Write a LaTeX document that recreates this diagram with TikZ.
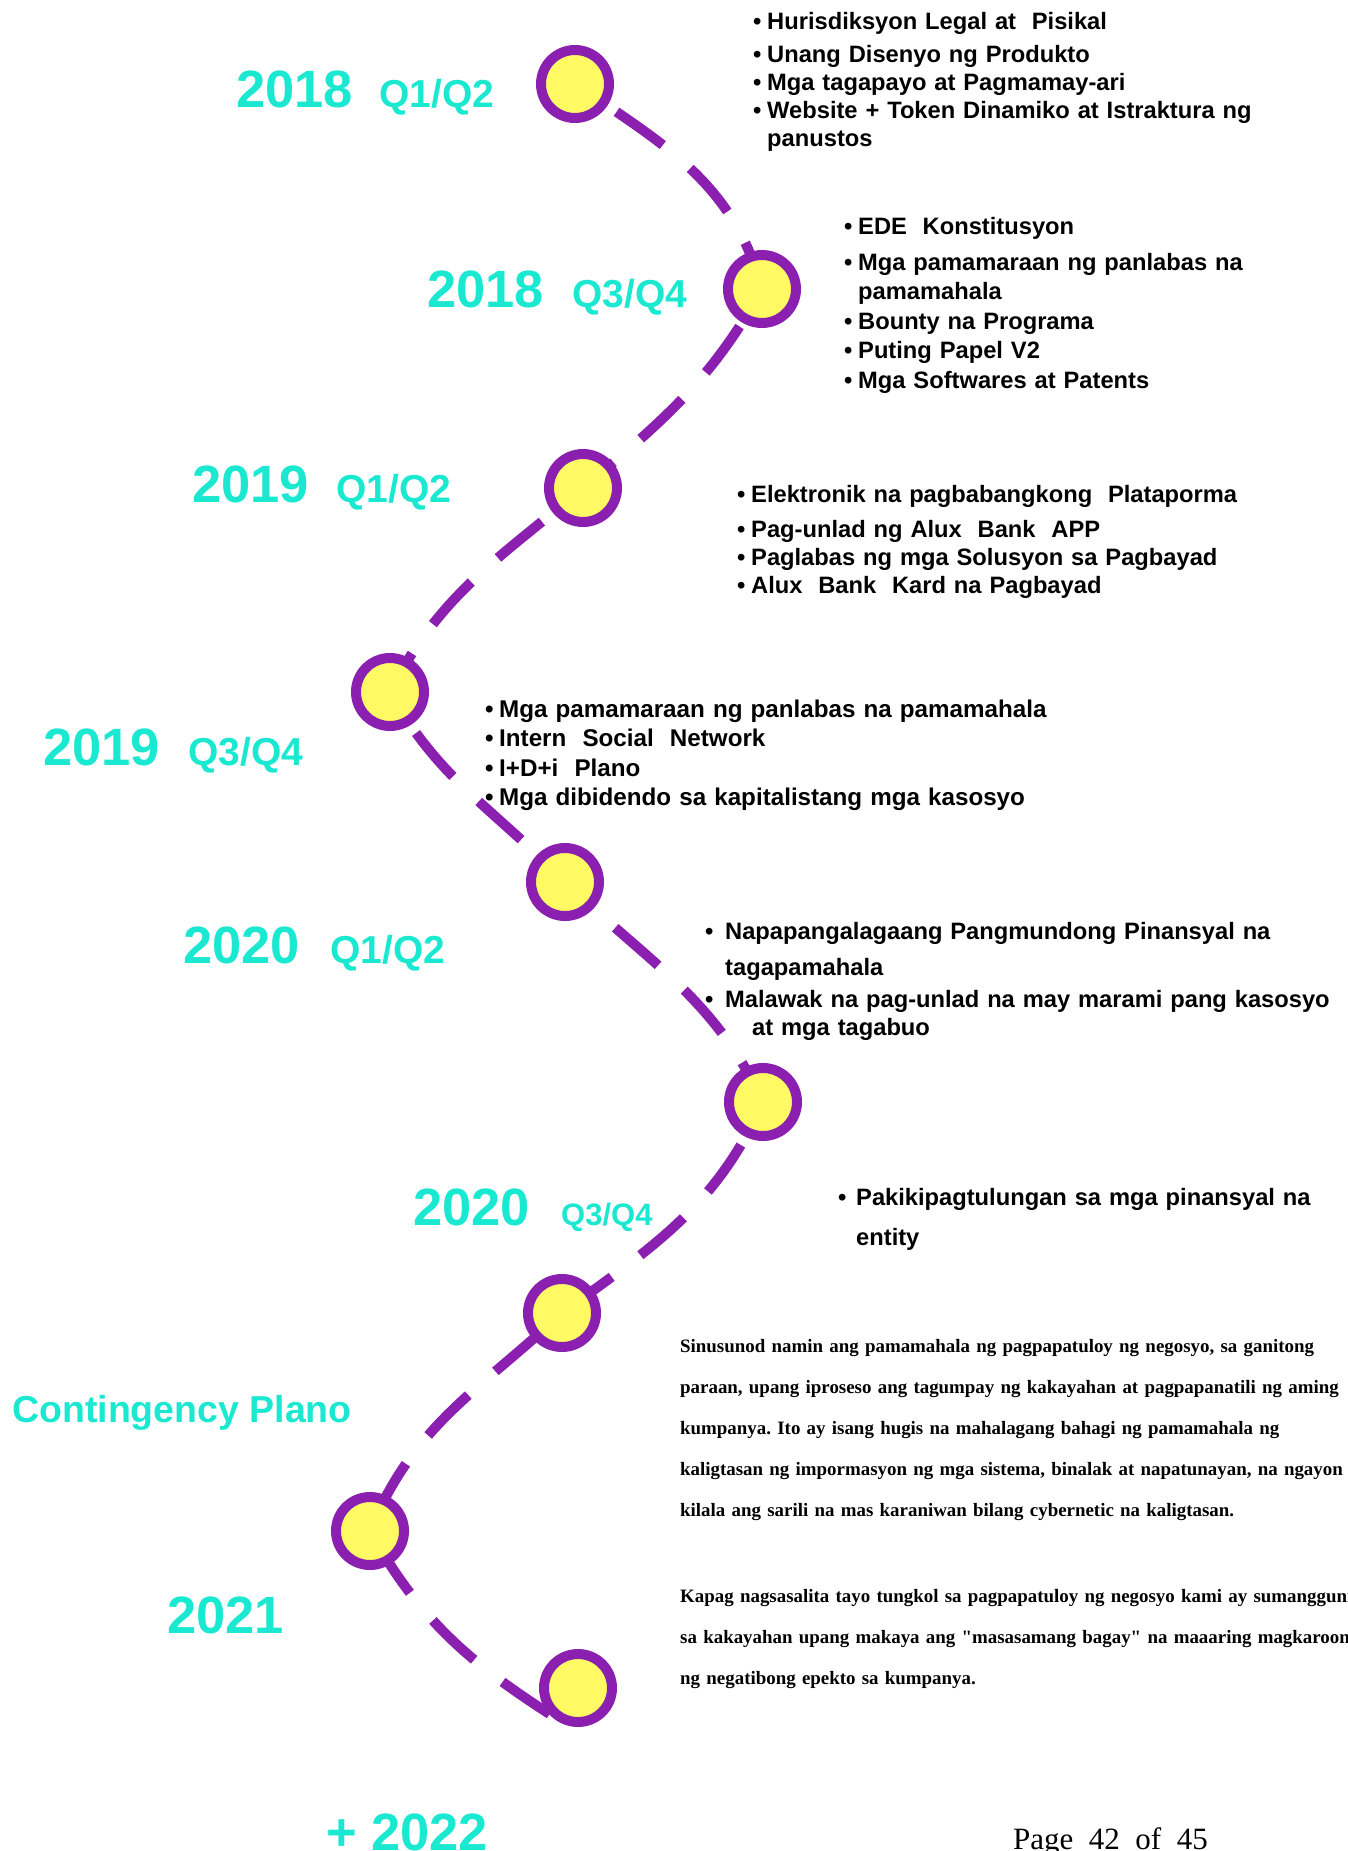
\documentclass[tikz,border=0pt]{standalone}
\usepackage{fontspec}
\setmainfont{Liberation Sans}
\newfontfamily\serif{Liberation Serif}
\usetikzlibrary{backgrounds}
\definecolor{tealc}{RGB}{26,232,208}
\definecolor{purp}{RGB}{139,32,176}
\definecolor{yel}{RGB}{255,250,100}
\def\BL{\makebox[14pt][l]{\textbullet}}
\def\IN{\hspace*{14pt}}
\frenchspacing

\begin{document}
\begin{tikzpicture}[x=1pt,y=1pt,
  stop/.style={circle,draw=purp,fill=yel,line width=10pt,minimum size=68pt,inner sep=0pt},
  year/.style={anchor=base west,inner sep=0pt,text=tealc,font=\fontsize{52.5}{52.5}\selectfont\bfseries},
  qtr/.style={anchor=base west,inner sep=0pt,text=tealc,font=\fontsize{39}{39}\selectfont\bfseries},
  items/.style={anchor=base west,inner sep=0pt,text width=640pt,align=left,font=\fontsize{23.7}{28}\selectfont\bfseries},
  para/.style={anchor=base west,inner sep=0pt,text width=720pt,align=left,font=\serif\fontsize{18.9}{41}\selectfont\bfseries},
  road/.style={purp,line width=10pt,dash pattern=on 57pt off 36pt,dash phase=43pt}]
\useasboundingbox (0,0) rectangle (1347,-1851);

% stops on the road
\node[stop] (c1) at (575,-84) {};
\node[stop] (c2) at (762,-289) {};
\node[stop] (c3) at (583,-488) {};
\node[stop] (c4) at (390,-692) {};
\node[stop] (c5) at (565,-882) {};
\node[stop] (c6) at (763,-1102) {};
\node[stop] (c7) at (562,-1313) {};
\node[stop] (c8) at (370,-1531) {};
\node[stop] (c9) at (578,-1688) {};
\coordinate (tail) at (578,-1732);

\begin{scope}[on background layer]
\draw[road] (c1.center) to[out=-34,in=105] (c2.center) to[out=-119,in=40] (c3.center)
  to[out=-140,in=63] (c4.center) to[out=-61,in=134] (c5.center) to[out=-44,in=115] (c6.center)
  to[out=-114,in=36] (c7.center) to[out=-137,in=68] (c8.center) to[out=-61,in=148] (tail);
\end{scope}

% years
\node[year] (y1) at (236,-108) {2018};  \node[qtr] (q1) at (379,-108) {Q1/Q2};
\node[year] (y2) at (427,-308) {2018};  \node[qtr] (q2) at (572,-308) {Q3/Q4};
\node[year] (y3) at (192,-502) {2019};  \node[qtr] (q3) at (336,-502) {Q1/Q2};
\node[year] (y4) at (43,-765) {2019};   \node[qtr] (q4) at (188,-765) {Q3/Q4};
\node[year] (y5) at (183,-963) {2020};  \node[qtr] (q5) at (330,-963) {Q1/Q2};
\node[year] (y6) at (413,-1225) {2020};
\node[qtr,font=\fontsize{31}{31}\selectfont\bfseries] (q6) at (561,-1225) {Q3/Q4};
\node[qtr,font=\fontsize{37.5}{37.5}\selectfont\bfseries] (cp) at (12,-1422) {Contingency Plano};
\node[year] (y7) at (167,-1633) {2021};
\node[year] (y8) at (326,-1850) {+ 2022};

% items
\node[items] (b1) at (753,-30) {\BL Hurisdiksyon Legal at\ \ Pisikal\\[5pt]
  \BL Unang Disenyo ng Produkto\\ \BL Mga tagapayo at Pagmamay-ari\\
  \BL Website + Token Dinamiko at Istraktura ng\\ \IN panustos};
\node[items,font=\fontsize{23.7}{29.5}\selectfont\bfseries] (b2) at (844,-235) {\BL EDE\ \ Konstitusyon\\[6pt]
  \BL Mga pamamaraan ng panlabas na\\ \IN pamamahala\\ \BL Bounty na Programa\\
  \BL Puting Papel V2\\ \BL Mga Softwares at Patents};
\node[items] (b3) at (737,-502) {\BL Elektronik na pagbabangkong\ \ Plataporma\\[7pt]
  \BL Pag-unlad ng Alux\ \ Bank\ \ APP\\ \BL Paglabas ng mga Solusyon sa Pagbayad\\
  \BL Alux\ \ Bank\ \ Kard na Pagbayad};
\node[items,font=\fontsize{24.2}{29.5}\selectfont\bfseries] (b4) at (485,-717) {\BL Mga pamamaraan ng panlabas na pamamahala\\
  \BL Intern\ \ Social\ \ Network\\ \BL I+D+i\ \ Plano\\ \BL Mga dibidendo sa kapitalistang mga kasosyo};
\node[items,font=\fontsize{23.7}{32}\selectfont\bfseries] (b5) at (705,-939) {\makebox[20pt][l]{\textbullet}Napapangalagaang Pangmundong Pinansyal na\\[4pt]
  \hspace*{20pt}tagapamahala\\ \makebox[20pt][l]{\textbullet}Malawak na pag-unlad na may marami pang kasosyo\\[-4pt]
  \hspace*{47pt}at mga tagabuo};
\node[items,font=\fontsize{23.7}{40}\selectfont\bfseries] (b6) at (838,-1205) {\makebox[18pt][l]{\textbullet}Pakikipagtulungan sa mga pinansyal na\\
  \hspace*{18pt}entity};

% contingency text
\node[para] (p1) at (680,-1352) {Sinusunod namin ang pamamahala ng pagpapatuloy ng negosyo, sa ganitong\\
  paraan, upang iproseso ang tagumpay ng kakayahan at pagpapanatili ng aming\\
  kumpanya. Ito ay isang hugis na mahalagang bahagi ng pamamahala ng\\
  kaligtasan ng impormasyon ng mga sistema, binalak at napatunayan, na ngayon\\
  kilala ang sarili na mas karaniwan bilang cybernetic na kaligtasan.};
\node[para] (p2) at (680,-1602) {Kapag nagsasalita tayo tungkol sa pagpapatuloy ng negosyo kami ay sumangguni\\
  sa kakayahan upang makaya ang "masasamang bagay" na maaaring magkaroon\\
  ng negatibong epekto sa kumpanya.};

\node[anchor=base west,inner sep=0pt,font=\serif\fontsize{31}{31}\selectfont] (pg) at (1013,-1849) {Page\ \ 42\ \ of\ \ 45};
\end{tikzpicture}
\end{document}
